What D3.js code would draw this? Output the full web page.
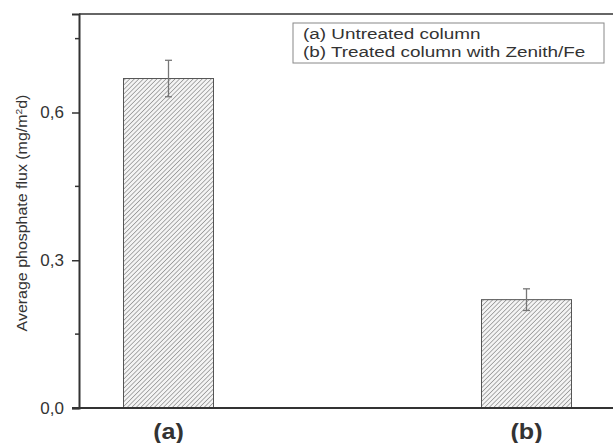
<!DOCTYPE html>
<meta charset="utf-8">
<script src="https://d3js.org/d3.v7.min.js"></script>
<style>
  body { margin: 0; background: #fff; }
  text { font-family: "Liberation Sans", Arial, sans-serif; fill: #333; }
</style>
<div id="chart"></div>
<script>

  // data
  const categories = ["(a)", "(b)"]
  const fluxValues = [0.669, 0.220]
  const fluxErrors = [0.037, 0.022]
  const yTicks = [0, 0.3, 0.6]
  const yMinorTicks = [0.15, 0.45, 0.75]
  const legendLines = ["(a) Untreated column", "(b) Treated column with Zenith/Fe"]

  const width = 613
  const height = 443
  const margin = {top: 14, right: -3, bottom: 35, left: 79}
  const stretch = 1.14 // the scan is a bit wider than tall

  const svg = d3.select("#chart")
    .append("svg")
      .attr("width", width)
      .attr("height", height)

  // hatch fill for the bars
  const pat = svg.append("defs").append("pattern")
      .attr("id", "hatch")
      .attr("patternUnits", "userSpaceOnUse")
      .attr("width", 3.2)
      .attr("height", 3.2)
      .attr("patternTransform", "rotate(45)")
  pat.append("rect").attr("width", 3.2).attr("height", 3.2).attr("fill", "#f4f4f4")
  pat.append("line")
      .attr("x1", 0).attr("y1", 0).attr("x2", 0).attr("y2", 3.2)
      .attr("stroke", "#8c8c8c").attr("stroke-width", 1.4)

  const x = d3.scalePoint()
    .domain(categories)
    .range([margin.left, width - margin.right])
    .padding(0.25)

  const y = d3.scaleLinear()
    .domain([0, 0.8])
    .range([height - margin.bottom, margin.top])

  const barW = 90

  // bars
  svg.append("g")
    .selectAll("rect")
    .data(categories)
    .join("rect")
      .attr("x", d => x(d) - barW / 2)
      .attr("y", (d, i) => y(fluxValues[i]))
      .attr("width", barW)
      .attr("height", (d, i) => y(0) - y(fluxValues[i]))
      .attr("fill", "url(#hatch)")
      .attr("stroke", "#555")
      .attr("stroke-width", 1)

  // error bars
  const err = svg.append("g")
      .attr("stroke", "#777")
      .attr("stroke-width", 1.3)
  categories.forEach((c, i) => {
    const cx = x(c), hi = y(fluxValues[i] + fluxErrors[i]), lo = y(fluxValues[i] - fluxErrors[i])
    err.append("line").attr("x1", cx).attr("x2", cx).attr("y1", hi).attr("y2", lo)
    err.append("line").attr("x1", cx - 3.5).attr("x2", cx + 3.5).attr("y1", hi).attr("y2", hi)
    err.append("line").attr("x1", cx - 3.5).attr("x2", cx + 3.5).attr("y1", lo).attr("y2", lo)
  })

  // frame top line
  svg.append("line")
      .attr("x1", margin.left).attr("x2", width)
      .attr("y1", y(0.8)).attr("y2", y(0.8))
      .attr("stroke", "#666").attr("stroke-width", 2)

  // y axis
  const yAxis = svg.append("g")
      .attr("transform", `translate(${margin.left},0)`)
      .call(d3.axisLeft(y).tickValues(yTicks).tickSize(7).tickPadding(8)
        .tickFormat(d => d3.format(".1f")(d).replace(".", ",")))
  yAxis.select(".domain").attr("stroke", "#333").attr("stroke-width", 2)
  yAxis.selectAll(".tick line").attr("stroke", "#333").attr("stroke-width", 1.5)
  yAxis.selectAll(".tick text")
      .style("font-size", "17px")
      .attr("fill", "#444")

  svg.append("g")
    .selectAll("line")
    .data(yMinorTicks)
    .join("line")
      .attr("x1", margin.left - 4).attr("x2", margin.left)
      .attr("y1", d => y(d)).attr("y2", d => y(d))
      .attr("stroke", "#333").attr("stroke-width", 1.5)

  // x axis line
  svg.append("line")
      .attr("x1", margin.left - 7).attr("x2", width)
      .attr("y1", y(0)).attr("y2", y(0))
      .attr("stroke", "#333").attr("stroke-width", 2)

  // category labels
  svg.append("g")
    .selectAll("text")
    .data(categories)
    .join("text")
      .attr("transform", d => `translate(${x(d)},${y(0) + 31}) scale(${stretch},1)`)
      .attr("text-anchor", "middle")
      .style("font-size", "22px")
      .style("font-weight", "bold")
      .attr("fill", "#222")
      .text(d => d)

  // y label
  const yl = svg.append("text")
      .attr("transform", `translate(27,${(y(0) + y(0.8)) / 2 + 2}) rotate(-90) scale(${stretch},1)`)
      .attr("text-anchor", "middle")
      .style("font-size", "14px")
      .attr("fill", "#444")
  yl.append("tspan").text("Average phosphate flux (mg/m")
  yl.append("tspan").attr("dy", -5).style("font-size", "9px").text("2")
  yl.append("tspan").attr("dy", 5).text("d)")

  // legend
  const lg = svg.append("g")
  lg.append("rect")
      .attr("x", 293).attr("y", 23)
      .attr("width", 311).attr("height", 40)
      .attr("fill", "#fff")
      .attr("stroke", "#888").attr("stroke-width", 1)
  lg.selectAll("text")
    .data(legendLines)
    .join("text")
      .attr("transform", (d, i) => `translate(303,${39 + i * 18}) scale(1.22,1)`)
      .style("font-size", "15.5px")
      .attr("fill", "#222")
      .text(d => d)

</script>
